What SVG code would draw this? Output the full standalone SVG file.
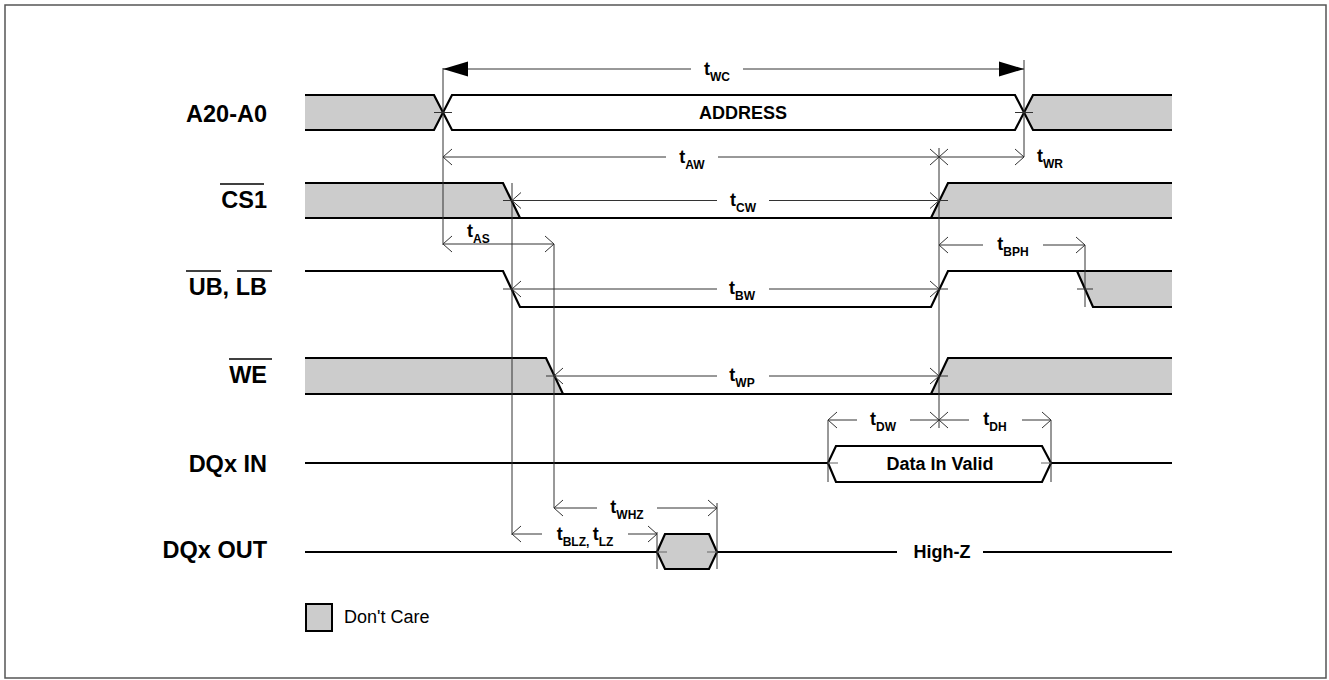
<svg xmlns="http://www.w3.org/2000/svg" width="1329" height="680" viewBox="0 0 1329 680">
<style>
.sig{fill:none;stroke:#000;stroke-width:2.2;stroke-linejoin:miter}
.dc{fill:#cccccc;stroke:none}
.tl{fill:none;stroke:#333;stroke-width:1}
.tk{fill:none;stroke:#666;stroke-width:1}
.ol{stroke:#000;stroke-width:1.4}
.lbl{font-family:"Liberation Sans",Arial,sans-serif;font-weight:bold;font-size:23.5px;text-anchor:end;fill:#000}
.t{font-family:"Liberation Sans",Arial,sans-serif;font-weight:bold;font-size:18px;text-anchor:middle;fill:#000}
.ts{text-anchor:start}
.sub{font-size:12px}
.txt{font-family:"Liberation Sans",Arial,sans-serif;font-weight:bold;font-size:18px;text-anchor:middle;fill:#000}
.leg{font-family:"Liberation Sans",Arial,sans-serif;font-size:18px;fill:#000}
</style>
<defs>
<marker id="oa" markerUnits="userSpaceOnUse" markerWidth="12" markerHeight="20" viewBox="0 0 12 20" refX="10" refY="10" orient="auto-start-reverse">
<path d="M1,2 L10,10 L1,18" fill="none" stroke="#333" stroke-width="1"/>
</marker>
<marker id="fa" markerUnits="userSpaceOnUse" markerWidth="26" markerHeight="20" viewBox="0 0 26 20" refX="25" refY="10" orient="auto-start-reverse">
<path d="M0,2.5 L25,10 L0,17.5 Z" fill="#000"/>
</marker>
</defs>
<rect x="5" y="5" width="1321" height="673" fill="#fff" stroke="#555" stroke-width="1.5"/>

<g id="sig-a20">
<text class="lbl" x="267" y="122">A20-A0</text>
<polygon class="dc" points="305,95 434,95 443,112.5 434,130 305,130"/>
<polygon class="dc" points="1024,112.5 1033,95 1172,95 1172,130 1033,130"/>
<path class="sig" d="M305,95 H434 L452,130 H1015 L1033,95 H1172"/>
<path class="sig" d="M305,130 H434 L452,95 H1015 L1033,130 H1172"/>
<text class="txt" x="743" y="118.5">ADDRESS</text>
</g>

<g id="sig-cs1">
<text class="lbl" x="267" y="208">CS1</text>
<line class="ol" x1="220" y1="184" x2="264" y2="184"/>
<polygon class="dc" points="305,183 503,183 520,218 305,218"/>
<polygon class="dc" points="931,218 948,183 1172,183 1172,218"/>
<path class="sig" d="M305,183 H503 L520,218 H931 L948,183 H1172"/>
<path class="sig" d="M305,218 H1172"/>
</g>

<g id="sig-ublb">
<text class="lbl" x="267" y="295">UB, LB</text>
<line class="ol" x1="186" y1="271" x2="221" y2="271"/>
<line class="ol" x1="237" y1="271" x2="272" y2="271"/>
<polygon class="dc" points="1077,271 1172,271 1172,307 1093,307"/>
<path class="sig" d="M305,271 H503 L520,307 H931 L948,271 H1172"/>
<path class="sig" d="M1077,271 L1093,307 H1172"/>
</g>

<g id="sig-we">
<text class="lbl" x="267" y="383">WE</text>
<line class="ol" x1="229" y1="359" x2="272" y2="359"/>
<polygon class="dc" points="305,358 546,358 563,394 305,394"/>
<polygon class="dc" points="931,394 948,358 1172,358 1172,394"/>
<path class="sig" d="M305,358 H546 L563,394 H931 L948,358 H1172"/>
<path class="sig" d="M305,394 H1172"/>
</g>

<g id="sig-dqin">
<text class="lbl" x="267" y="472">DQx IN</text>
<path class="sig" d="M305,463 H828 L836,446 H1042 L1051,463 H1172"/>
<path class="sig" d="M828,463 L836,482 H1042 L1051,463"/>
<text class="txt" x="940" y="469.5">Data In Valid</text>
</g>

<g id="sig-dqout">
<text class="lbl" x="267" y="558">DQx OUT</text>
<polygon class="dc" points="657,552 665,534 709,534 717,552 709,569 665,569"/>
<polygon class="sig" points="657,552 665,534 709,534 717,552 709,569 665,569"/>
<path class="sig" d="M305,552 H657 M717,552 H897 M983,552 H1172"/>
<text class="txt" x="942" y="558">High-Z</text>
</g>

<g id="legend">
<rect x="306" y="604" width="26" height="27" fill="#cccccc" stroke="#000" stroke-width="2"/>
<text class="leg" x="344" y="623">Don't Care</text>
</g>

<g id="connectors">
<path class="tl" d="M443,68 V245 M1024,60 V157 M512,183 V535 M554,244 V508 M939,148 V428 M1085,245 V307 M828,420 V482 M1051,420 V482 M657,532 V569 M717,503 V569"/>
<path class="tl" d="M434,112.5 H452 M1015,112.5 H1033 M503,200.5 H512 M939,200.5 H948 M503,289 H512 M939,289 H948 M546,376 H554 M939,376 H948 M1077,289 H1093"/>
<path class="tk" d="M828,463 H838 M1041,463 H1051 M657,552 H667 M707,552 H717"/>
<line class="tl" x1="443" y1="69" x2="691" y2="69" marker-start="url(#fa)"/>
<line class="tl" x1="743" y1="69" x2="1024" y2="69" marker-end="url(#fa)"/>
<text class="t" x="717" y="75">t<tspan class="sub" dy="5.5">WC</tspan></text>
<line class="tl" x1="443" y1="157" x2="666" y2="157" marker-start="url(#oa)"/>
<line class="tl" x1="718" y1="157" x2="939" y2="157" marker-end="url(#oa)"/>
<text class="t" x="692" y="163">t<tspan class="sub" dy="5.5">AW</tspan></text>
<line class="tl" x1="939" y1="157" x2="1024" y2="157" marker-start="url(#oa)" marker-end="url(#oa)"/>
<text class="t ts" x="1037" y="162">t<tspan class="sub" dy="5.5">WR</tspan></text>
<line class="tl" x1="512" y1="200.5" x2="717" y2="200.5" marker-start="url(#oa)"/>
<line class="tl" x1="769" y1="200.5" x2="939" y2="200.5" marker-end="url(#oa)"/>
<text class="t" x="743" y="206">t<tspan class="sub" dy="5.5">CW</tspan></text>
<line class="tl" x1="443" y1="244" x2="554" y2="244" marker-start="url(#oa)" marker-end="url(#oa)"/>
<text class="t ts" x="467" y="237">t<tspan class="sub" dy="5.5">AS</tspan></text>
<line class="tl" x1="939" y1="245" x2="983" y2="245" marker-start="url(#oa)"/>
<line class="tl" x1="1043" y1="245" x2="1085" y2="245" marker-end="url(#oa)"/>
<text class="t" x="1013" y="250">t<tspan class="sub" dy="5.5">BPH</tspan></text>
<line class="tl" x1="512" y1="289" x2="717" y2="289" marker-start="url(#oa)"/>
<line class="tl" x1="769" y1="289" x2="939" y2="289" marker-end="url(#oa)"/>
<text class="t" x="742" y="294">t<tspan class="sub" dy="5.5">BW</tspan></text>
<line class="tl" x1="554" y1="376" x2="717" y2="376" marker-start="url(#oa)"/>
<line class="tl" x1="769" y1="376" x2="939" y2="376" marker-end="url(#oa)"/>
<text class="t" x="742" y="381">t<tspan class="sub" dy="5.5">WP</tspan></text>
<line class="tl" x1="828" y1="420" x2="857" y2="420" marker-start="url(#oa)"/>
<line class="tl" x1="910" y1="420" x2="939" y2="420" marker-end="url(#oa)"/>
<text class="t" x="883" y="425">t<tspan class="sub" dy="5.5">DW</tspan></text>
<line class="tl" x1="939" y1="420" x2="969" y2="420" marker-start="url(#oa)"/>
<line class="tl" x1="1022" y1="420" x2="1051" y2="420" marker-end="url(#oa)"/>
<text class="t" x="995" y="425">t<tspan class="sub" dy="5.5">DH</tspan></text>
<line class="tl" x1="554" y1="508" x2="597" y2="508" marker-start="url(#oa)"/>
<line class="tl" x1="657" y1="508" x2="717" y2="508" marker-end="url(#oa)"/>
<text class="t" x="627" y="513">t<tspan class="sub" dy="5.5">WHZ</tspan></text>
<line class="tl" x1="512" y1="534" x2="542" y2="534" marker-start="url(#oa)"/>
<line class="tl" x1="628" y1="534" x2="657" y2="534" marker-end="url(#oa)"/>
<text class="t" x="585" y="540">t<tspan class="sub" dy="5.5">BLZ, </tspan><tspan dy="-5.5">t</tspan><tspan class="sub" dy="5.5">LZ</tspan></text>
</g>
</svg>
